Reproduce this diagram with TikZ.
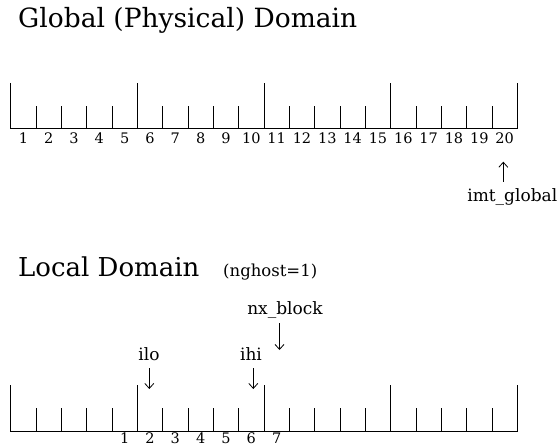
\documentclass[tikz,border=0pt]{standalone}
\usepackage{fontspec}
\setmainfont{DejaVu Serif}
\usetikzlibrary{arrows.meta}
\newcommand{\fsz}[1]{\fontsize{#1}{#1}\selectfont}
\tikzset{
  rule/.style={line width=0.8pt, line cap=butt},
  lbl/.style={inner sep=0pt, anchor=base, font=\fsz{17}},
  num/.style={inner sep=0pt, anchor=base, font=\fsz{14.5}},
  ttl/.style={inner sep=0pt, anchor=base west, font=\fsz{26.5}},
  ptr/.style={line width=0.8pt, -{Straight Barb[length=5pt,width=9pt,line width=0.8pt]}},
}
\begin{document}
\begin{tikzpicture}[x=1pt,y=-1pt]
\useasboundingbox (0,0) rectangle (559,446);
% titles
\node[ttl] (gtitle) at (18,28) {Global (Physical) Domain};
\node[inner sep=0pt, anchor=base west, font=\fsz{26}] (ltitle) at (18,276.7) {Local Domain};
\node[inner sep=0pt, anchor=base west, font=\fsz{16.5}] (ngh) at (223,276.7) {(nghost=1)};
% global ruler
\draw[rule] (10.7,83) -- (10.7,128) -- (517.3,128) -- (517.3,83);
\foreach \i in {1,...,19}{
  \pgfmathsetmacro{\xx}{10.7+25.33*\i}
  \pgfmathtruncatemacro{\m}{mod(\i,5)}
  \ifnum\m=0
    \draw[rule] (\xx,128) -- (\xx,83);
  \else
    \draw[rule] (\xx,128) -- (\xx,106);
  \fi
}
\foreach \i in {1,...,20}{
  \pgfmathsetmacro{\xx}{10.7+25.33*(\i-0.5)}
  \node[num] (g\i) at (\xx,143.3) {\i};
}
% local ruler
\draw[rule] (10.7,385) -- (10.7,431.7) -- (517.3,431.7) -- (517.3,385);
\foreach \i in {1,...,19}{
  \pgfmathsetmacro{\xx}{10.7+25.33*\i}
  \pgfmathtruncatemacro{\m}{mod(\i,5)}
  \ifnum\m=0
    \draw[rule] (\xx,431.7) -- (\xx,385);
  \else
    \draw[rule] (\xx,431.7) -- (\xx,408);
  \fi
}
\foreach \i in {1,...,7}{
  \pgfmathsetmacro{\xx}{10.7+25.33*(\i+3.5)}
  \node[num] (l\i) at (\xx,443) {\i};
}
% imt_global
\node[lbl] (imt) at (512.3,201.7) {imt\_global};
\coordinate (imtA) at (503.3,182);
\coordinate (imtB) at (503.3,161.7);
\draw[ptr] (imtA) -- (imtB);
% ilo, ihi, nx_block
\node[lbl] (ilo) at (149,360) {ilo};
\coordinate (iloA) at (149.3,368);
\coordinate (iloB) at (149.3,389);
\draw[ptr] (iloA) -- (iloB);
\node[lbl] (ihi) at (251,360) {ihi};
\coordinate (ihiA) at (253.3,368);
\coordinate (ihiB) at (253.3,389);
\draw[ptr] (ihiA) -- (ihiB);
\node[lbl] (nxb) at (285,314) {nx\_block};
\coordinate (nxA) at (279.5,323);
\coordinate (nxB) at (279.5,350);
\draw[ptr] (nxA) -- (nxB);
\end{tikzpicture}
\end{document}
